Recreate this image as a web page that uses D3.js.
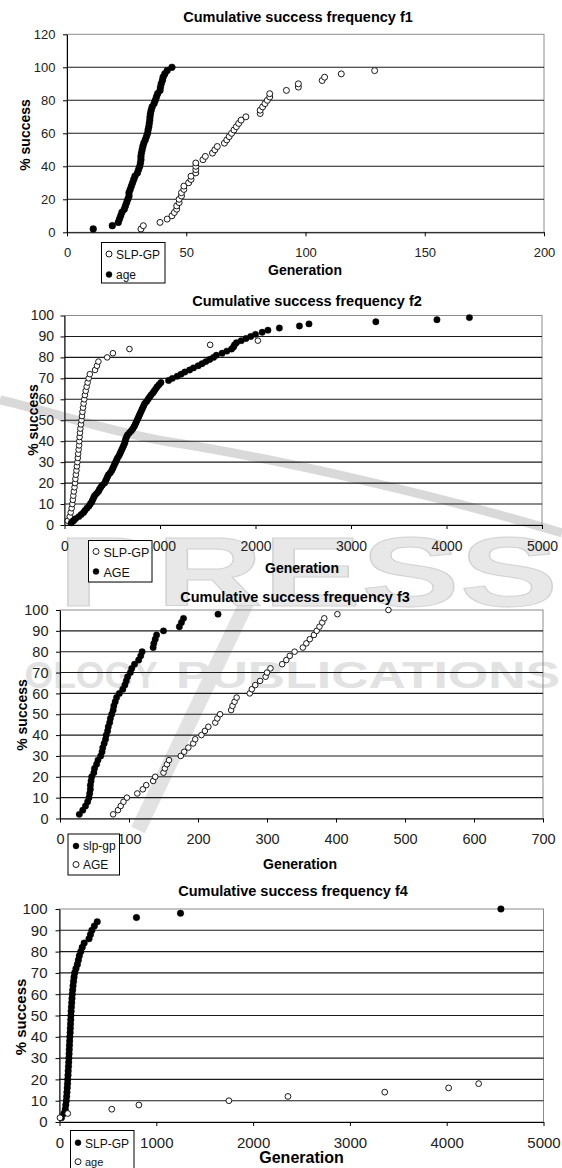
<!DOCTYPE html>
<html>
<head>
<meta charset="utf-8">
<script src="https://cdn.jsdelivr.net/npm/d3@7"></script>
<style>
body { margin: 0; background: #fff; }
svg { display: block; }
text { font-family: "Liberation Sans", Arial, sans-serif; }
</style>
</head>
<body>
<svg id="fig" width="562" height="1168"></svg>
<script>
// ---- f1 ----
var f1Title = "Cumulative success frequency f1";
var f1XTicks = [0, 50, 100, 150, 200];
var f1YTicks = [0, 20, 40, 60, 80, 100, 120];
var f1Names = ["SLP-GP", "age"];
var f1SlpGen = [31,32,39,42,44,45,46,46,47,47,48,48,49,49,51,52,52,54,54,54,54,57,58,61,62,63,66,67,68,69,70,71,72,73,75,81,81,82,83,84,85,85,92,97,97,107,108,115,129];
var f1SlpPct = [2,4,6,8,10,12,14,16,18,20,22,24,26,28,30,32,34,36,38,40,42,44,46,48,50,52,54,56,58,60,62,64,66,68,70,72,74,76,78,80,82,84,86,88,90,92,94,96,98];
var f1AgeGen = [11,19,21.5,22,22.5,23,24,24.5,25,25.5,26,26,26.5,27,27.5,28,28.5,29.5,30,30.5,30.8,31,31,31.2,31.5,31.8,32.2,32.8,33.3,33.8,34,34.3,34.5,34.7,34.8,35,35.3,35.7,36.5,37,37.5,38,39,39.2,39.5,40,40.3,41,42,44];
var f1AgePct = [2,4,6,8,10,12,14,16,18,20,22,24,26,28,30,32,34,36,38,40,42,44,46,48,50,52,54,56,58,60,62,64,66,68,70,72,74,76,78,80,82,84,86,88,90,92,94,96,98,100];

// ---- f2 ----
var f2Title = "Cumulative success frequency f2";
var f2XTicks = [0, 1000, 2000, 3000, 4000, 5000];
var f2YTicks = [0, 10, 20, 30, 40, 50, 60, 70, 80, 90, 100];
var f2Names = ["SLP-GP", "AGE"];
var f2SlpGen = [35,55,65,75,82,87,92,98,105,110,114,119,125,130,135,139,143,148,153,155,158,162,166,172,178,183,188,194,200,207,214,222,232,242,253,265,320,340,355,447,507,680,1525,2025];
var f2SlpPct = [2,4,6,8,10,12,14,16,18,20,22,24,26,28,30,32,34,36,38,40,42,44,46,48,50,52,54,56,58,60,62,64,66,68,70,72,74,76,78,80,82,84,86,88];
var f2AgeGen = [70,95,115,150,175,200,215,235,255,270,
  285,295,305,315,335,355,365,380,395,420,
  430,440,450,460,480,495,505,515,525,535,
  545,555,570,580,590,600,610,620,630,635,
  640,650,660,680,700,715,730,740,750,760,
  770,780,790,800,810,820,830,840,860,875,
  890,905,925,940,955,970,990,1010,1090,1130,
  1180,1220,1260,1310,1350,1400,1440,1480,1520,1560,
  1590,1650,1700,1750,1770,1780,1800,1850,1900,1950,
  2000,2070,2130,2250,2460,2560,3260,3900,4240];
var f2AgePct = [1,2,3,4,5,6,7,8,9,10,11,12,13,14,15,16,17,18,19,20,21,22,23,24,25,26,27,28,29,30,31,32,33,34,35,36,37,38,39,40,41,42,43,44,45,46,47,48,49,50,51,52,53,54,55,56,57,58,59,60,61,62,63,64,65,66,67,68,69,70,71,72,73,74,75,76,77,78,79,80,81,82,83,84,85,86,87,88,89,90,91,92,93,94,95,96,97,98,99];

// ---- f3 ----
var f3Title = "Cumulative success frequency f3";
var f3XTicks = [0, 100, 200, 300, 400, 500, 600, 700];
var f3YTicks = [0, 10, 20, 30, 40, 50, 60, 70, 80, 90, 100];
var f3Names = ["slp-gp", "AGE"];
var f3SlpGen = [28,33,37,40,42,43,44,44,45,46,49,50,53,55,59,61,62,64,66,67,69,70,72,73,75,77,78,80,82,86,91,94,96,98,102,104,108,114,117,119,135,136,138,140,150,173,176,179,229];
var f3SlpPct = [2,4,6,8,10,12,14,16,18,20,22,24,26,28,30,32,34,36,38,40,42,44,46,48,50,52,54,56,58,60,62,64,66,68,70,72,74,76,78,80,82,84,86,88,90,92,94,96,98];
var f3AgeGen = [77,84,88,92,97,112,120,125,135,138,150,152,155,158,175,180,186,193,196,205,210,215,225,228,232,248,250,253,256,275,278,283,290,298,300,305,322,328,333,340,352,357,362,368,372,376,380,383,402,476];
var f3AgePct = [2,4,6,8,10,12,14,16,18,20,22,24,26,28,30,32,34,36,38,40,42,44,46,48,50,52,54,56,58,60,62,64,66,68,70,72,74,76,78,80,82,84,86,88,90,92,94,96,98,100];

// ---- f4 ----
var f4Title = "Cumulative success frequency f4";
var f4XTicks = [0, 1000, 2000, 3000, 4000, 5000];
var f4YTicks = [0, 10, 20, 30, 40, 50, 60, 70, 80, 90, 100];
var f4Names = ["SLP-GP", "age"];
var f4SlpGen = [20,45,60,65,70,74,77,80,83,85,88,90,93,95,97,99,101,103,105,107,110,112,114,116,118,120,123,126,129,132,136,140,145,150,157,170,185,195,205,220,235,255,305,320,335,360,390,795,1250,4560];
var f4SlpPct = [2,4,6,8,10,12,14,16,18,20,22,24,26,28,30,32,34,36,38,40,42,44,46,48,50,52,54,56,58,60,62,64,66,68,70,72,74,76,78,80,82,84,86,88,90,92,94,96,98,100];
var f4AgeGen = [5,85,540,820,1750,2360,3360,4020,4330];
var f4AgePct = [2,4,6,8,10,12,14,16,18];

var svg = d3.select("#fig");

// faint publisher watermark behind the charts
function drawWatermark() {
	var w = svg.append("g");
	w.append("path")
	.attr("d", "M0,400 C60,414 110,432 170,442 C260,456 420,490 562,533")
	.attr("fill", "none").attr("stroke", "#d9d9d9").attr("stroke-width", 9);
	w.append("path")
	.attr("d", "M250,596 L138,830")
	.attr("fill", "none").attr("stroke", "#e2e2e2").attr("stroke-width", 15);
	w.append("text")
	.attr("x", 58).attr("y", 606)
	.attr("font-size", 98).attr("font-weight", "bold")
	.attr("textLength", 500).attr("lengthAdjust", "spacingAndGlyphs")
	.attr("fill", "#e8e8e8").attr("stroke", "#d2d2d2")
	.text("PRESS");
	w.append("text")
	.attr("x", 158).attr("y", 688).attr("text-anchor", "end")
	.attr("font-size", 37).attr("font-weight", "bold")
	.attr("fill", "#e2e2e2")
	.text("OLOGY");
	w.append("text")
	.attr("x", 176).attr("y", 688)
	.attr("font-size", 37).attr("font-weight", "bold")
	.attr("textLength", 384).attr("lengthAdjust", "spacingAndGlyphs")
	.attr("fill", "#e2e2e2")
	.text("PUBLICATIONS");
}

function drawChart(c) {
	var g = svg.append("g");
	var x = d3.scaleLinear().domain([c.xTicks[0], c.xTicks[c.xTicks.length - 1]]).range([c.left, c.right]);
	var y = d3.scaleLinear().domain([c.yTicks[0], c.yTicks[c.yTicks.length - 1]]).range([c.bottom, c.top]);

	g.append("rect")
	.attr("x", c.left).attr("y", c.top)
	.attr("width", c.right - c.left).attr("height", c.bottom - c.top)
	.attr("fill", "none").attr("stroke", "#8c8c8c");

	g.selectAll("line.grid")
	.data(c.yTicks.slice(1, -1))
	.enter().append("line")
	.attr("class", "grid")
	.attr("x1", c.left).attr("x2", c.right)
	.attr("y1", function (d) {return y(d);})
	.attr("y2", function (d) {return y(d);})
	.attr("stroke", "#1a1a1a").attr("stroke-width", 1.1);

	var ya = g.append("g")
	.attr("transform", "translate(" + c.left + ",0)")
	.call(d3.axisLeft(y).tickValues(c.yTicks).tickSize(4).tickSizeOuter(0).tickPadding(c.yPad));
	var xa = g.append("g")
	.attr("transform", "translate(0," + c.bottom + ")")
	.call(d3.axisBottom(x).tickValues(c.xTicks).tickSize(4).tickSizeOuter(0).tickPadding(c.xPad).tickFormat(d3.format("d")));
	[ya, xa].forEach(function (a) {
		a.attr("font-family", "Liberation Sans, Arial, sans-serif").attr("font-size", c.tickFont);
		a.selectAll("text").attr("fill", "#222");
		a.selectAll("line").attr("stroke", "#000");
		a.select(".domain").attr("stroke", "#000");
	});

	c.series.forEach(function (s) {
		g.append("g").selectAll("circle")
		.data(d3.zip(s.gen, s.pct))
		.enter().append("circle")
		.attr("cx", function (d) {return x(d[0]);})
		.attr("cy", function (d) {return y(d[1]);})
		.attr("r", s.filled ? c.r + 0.4 : c.r)
		.attr("fill", s.filled ? "#000" : "#fff")
		.attr("stroke", "#000")
		.attr("stroke-width", s.filled ? 0.4 : 0.9);
	});

	g.append("text")
	.attr("x", c.titleX).attr("y", c.titleY)
	.attr("text-anchor", "middle")
	.attr("font-size", 14.5).attr("font-weight", "bold")
	.text(c.title);

	g.append("text")
	.attr("x", c.genX).attr("y", c.genY)
	.attr("text-anchor", "middle")
	.attr("font-size", c.genFont).attr("font-weight", "bold")
	.text("Generation");

	g.append("text")
	.attr("transform", "translate(" + c.ylabX + "," + c.ylabY + ") rotate(-90)")
	.attr("text-anchor", "middle")
	.attr("font-size", c.ylabFont).attr("font-weight", "bold")
	.text("% success");

	var L = c.legend;
	var lg = g.append("g");
	lg.append("rect")
	.attr("x", L.x).attr("y", L.y).attr("width", L.w).attr("height", L.h)
	.attr("fill", "#fff").attr("stroke", "#000");
	c.series.forEach(function (s, i) {
		lg.append("circle")
		.attr("cx", L.mx).attr("cy", L.my[i]).attr("r", 3)
		.attr("fill", s.filled ? "#000" : "#fff")
		.attr("stroke", "#000").attr("stroke-width", s.filled ? 0.4 : 0.9);
		lg.append("text")
		.attr("x", L.tx).attr("y", L.ty[i])
		.attr("font-size", L.font[i]).attr("fill", "#111")
		.text(s.name);
	});
}

drawWatermark();

drawChart({
	title: f1Title, xTicks: f1XTicks, yTicks: f1YTicks,
	left: 67, right: 544, top: 34.3, bottom: 232.3,
	tickFont: 13, xPad: 11, yPad: 7.5, r: 3,
	titleX: 298, titleY: 21.5,
	genX: 305, genY: 274.5, genFont: 14,
	ylabX: 30, ylabY: 135, ylabFont: 14,
	series: [
		{name: f1Names[0], gen: f1SlpGen, pct: f1SlpPct, filled: false},
		{name: f1Names[1], gen: f1AgeGen, pct: f1AgePct, filled: true}
	],
	legend: {x: 101.5, y: 242.5, w: 63.5, h: 40.5, mx: 109, my: [254, 274.5], tx: 116, ty: [259, 278.5], font: [12, 12]}
});

drawChart({
	title: f2Title, xTicks: f2XTicks, yTicks: f2YTicks,
	left: 64.5, right: 542, top: 315.5, bottom: 525,
	tickFont: 14, xPad: 12, yPad: 6.5, r: 2.8,
	titleX: 307, titleY: 306,
	genX: 302, genY: 572.5, genFont: 14,
	ylabX: 37.5, ylabY: 420, ylabFont: 14,
	series: [
		{name: f2Names[0], gen: f2SlpGen, pct: f2SlpPct, filled: false},
		{name: f2Names[1], gen: f2AgeGen, pct: f2AgePct, filled: true}
	],
	legend: {x: 88.5, y: 540.5, w: 63.5, h: 41.5, mx: 96, my: [551.5, 571.5], tx: 103.5, ty: [556.5, 576.5], font: [12.5, 12.5]}
});

drawChart({
	title: f3Title, xTicks: f3XTicks, yTicks: f3YTicks,
	left: 60, right: 543, top: 610, bottom: 818.5,
	tickFont: 14.5, xPad: 11, yPad: 7.5, r: 2.8,
	titleX: 295, titleY: 602,
	genX: 300, genY: 868.5, genFont: 14,
	ylabX: 27, ylabY: 715, ylabFont: 14,
	series: [
		{name: f3Names[0], gen: f3SlpGen, pct: f3SlpPct, filled: true},
		{name: f3Names[1], gen: f3AgeGen, pct: f3AgePct, filled: false}
	],
	legend: {x: 68, y: 834, w: 51.5, h: 41, mx: 76, my: [846, 864.5], tx: 83, ty: [850, 869], font: [12, 12]}
});

drawChart({
	title: f4Title, xTicks: f4XTicks, yTicks: f4YTicks,
	left: 59.5, right: 543.5, top: 909, bottom: 1122,
	tickFont: 15, xPad: 11, yPad: 8, r: 2.9,
	titleX: 293, titleY: 896,
	genX: 301.5, genY: 1163, genFont: 16,
	ylabX: 25.5, ylabY: 1017, ylabFont: 15,
	series: [
		{name: f4Names[0], gen: f4SlpGen, pct: f4SlpPct, filled: true},
		{name: f4Names[1], gen: f4AgeGen, pct: f4AgePct, filled: false}
	],
	legend: {x: 70.5, y: 1130.5, w: 63.5, h: 40, mx: 78, my: [1142.7, 1161.7], tx: 85, ty: [1148, 1165.5], font: [12, 11]}
});
</script>
</body>
</html>
